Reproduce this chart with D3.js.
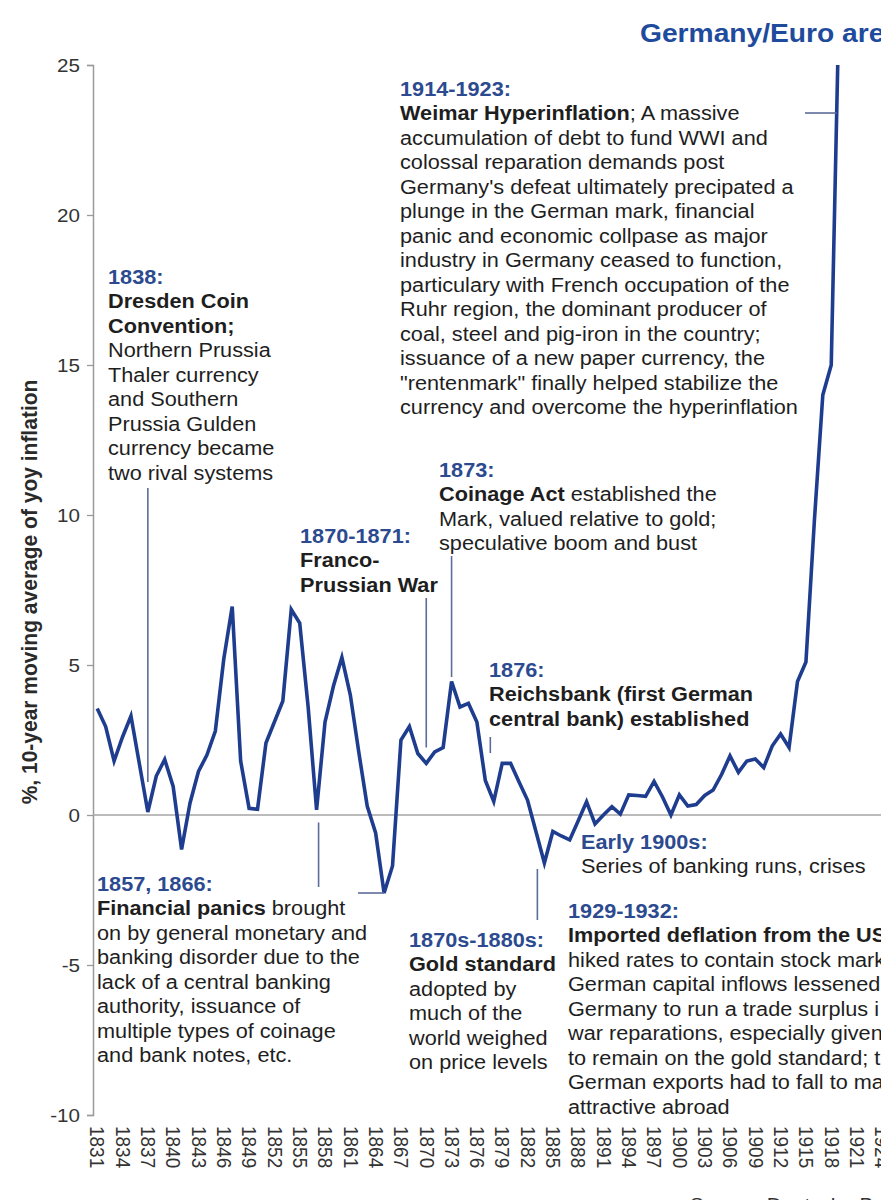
<!DOCTYPE html>
<html>
<head>
<meta charset="utf-8">
<script src="https://cdn.jsdelivr.net/npm/d3@7"></script>
<style>
  html, body { margin: 0; padding: 0; background: #fff; }
  svg { display: block; font-family: "Liberation Sans", Arial, sans-serif; }
</style>
</head>
<body>
<svg id="chart" width="881" height="1200"></svg>
<script>
// ---------- data ----------
const years = [
  1831,1832,1833,1834,1835,1836,1837,1838,1839,1840,
  1841,1842,1843,1844,1845,1846,1847,1848,1849,1850,
  1851,1852,1853,1854,1855,1856,1857,1858,1859,1860,
  1861,1862,1863,1864,1865,1866,1867,1868,1869,1870,
  1871,1872,1873,1874,1875,1876,1877,1878,1879,1880,
  1881,1882,1883,1884,1885,1886,1887,1888,1889,1890,
  1891,1892,1893,1894,1895,1896,1897,1898,1899,1900,
  1901,1902,1903,1904,1905,1906,1907,1908,1909,1910,
  1911,1912,1913,1914,1915,1916,1917,1918,1919
];
const inflation = [
  3.55,2.95,1.8,2.6,3.3,1.7,0.1,1.3,1.85,0.95,
  -1.15,0.4,1.45,2.0,2.8,5.2,6.95,1.8,0.22,0.19,
  2.4,3.1,3.8,6.85,6.4,3.6,0.17,3.1,4.3,5.25,
  4.0,2.1,0.3,-0.6,-2.6,-1.7,2.5,2.95,2.05,1.72,
  2.1,2.25,4.45,3.6,3.72,3.1,1.15,0.45,1.72,1.72,
  1.1,0.5,-0.55,-1.6,-0.55,-0.7,-0.83,-0.2,0.44,-0.3,
  0.0,0.28,0.03,0.67,0.65,0.62,1.12,0.6,0.0,0.67,
  0.3,0.35,0.65,0.83,1.35,1.97,1.42,1.8,1.87,1.58,
  2.3,2.7,2.25,4.45,5.1,9.8,14.0,15.0,28
];
const tickYears = [1831,1834,1837,1840,1843,1846,1849,1852,1855,1858,1861,1864,1867,1870,1873,1876,1879,1882,1885,1888,1891,1894,1897,1900,1903,1906,1909,1912,1915,1918,1921,1924];
const yTicks = [-10,-5,0,5,10,15,20,25];

const titleText = "Germany/Euro area";
const yAxisTitle = "%, 10-year moving average of yoy inflation";
const sourceText = "Source: Deutsche Bank";

// annotation texts: each line is a list of [text, style]
const noteWeimar = [
  [["1914-1923:", "h"]],
  [["Weimar Hyperinflation", "b"], ["; A massive", "n"]],
  [["accumulation of debt to fund WWI and", "n"]],
  [["colossal reparation demands post", "n"]],
  [["Germany's defeat ultimately precipated a", "n"]],
  [["plunge in the German mark, financial", "n"]],
  [["panic and economic collpase as major", "n"]],
  [["industry in Germany ceased to function,", "n"]],
  [["particulary with French occupation of the", "n"]],
  [["Ruhr region, the dominant producer of", "n"]],
  [["coal, steel and pig-iron in the country;", "n"]],
  [["issuance of a new paper currency, the", "n"]],
  [["\"rentenmark\" finally helped stabilize the", "n"]],
  [["currency and overcome the hyperinflation", "n"]]
];
const noteDresden = [
  [["1838:", "h"]],
  [["Dresden Coin", "b"]],
  [["Convention;", "b"]],
  [["Northern Prussia", "n"]],
  [["Thaler currency", "n"]],
  [["and Southern", "n"]],
  [["Prussia Gulden", "n"]],
  [["currency became", "n"]],
  [["two rival systems", "n"]]
];
const noteFranco = [
  [["1870-1871:", "h"]],
  [["Franco-", "b"]],
  [["Prussian War", "b"]]
];
const noteCoinage = [
  [["1873:", "h"]],
  [["Coinage Act", "b"], [" established the", "n"]],
  [["Mark, valued relative to gold;", "n"]],
  [["speculative boom and bust", "n"]]
];
const noteReichsbank = [
  [["1876:", "h"]],
  [["Reichsbank (first German", "b"]],
  [["central bank) established", "b"]]
];
const noteEarly1900 = [
  [["Early 1900s:", "h"]],
  [["Series of banking runs, crises", "n"]]
];
const notePanics = [
  [["1857, 1866:", "h"]],
  [["Financial panics", "b"], [" brought", "n"]],
  [["on by general monetary and", "n"]],
  [["banking disorder due to the", "n"]],
  [["lack of a central banking", "n"]],
  [["authority, issuance of", "n"]],
  [["multiple types of coinage", "n"]],
  [["and bank notes, etc.", "n"]]
];
const noteGold = [
  [["1870s-1880s:", "h"]],
  [["Gold standard", "b"]],
  [["adopted by", "n"]],
  [["much of the", "n"]],
  [["world weighed", "n"]],
  [["on price levels", "n"]]
];
const noteDeflation = [
  [["1929-1932:", "h"]],
  [["Imported deflation from the US", "b"]],
  [["hiked rates to contain stock mark", "n"]],
  [["German capital inflows lessened", "n"]],
  [["Germany to run a trade surplus i", "n"]],
  [["war reparations, especially given", "n"]],
  [["to remain on the gold standard; t", "n"]],
  [["German exports had to fall to ma", "n"]],
  [["attractive abroad", "n"]]
];

// ---------- drawing ----------
const svg = d3.select("#chart");
const W = 881, H = 1200;
const lineColor = "#1f3d8f";
const blue = "#2c4a8f";
const txt = "#1e1e1e";
const leader = "#5d6d99";
const SX = 1.085;      // horizontal stretch of the original picture's type
const FONT = "Liberation Sans, Arial, sans-serif";

const step = 8.437;
const x = d3.scaleLinear().domain([1830.5, 1930.5]).range([93, 93 + 100 * step]);
const y = d3.scaleLinear().domain([-10, 25]).range([1115, 65]);

// title
svg.append("g").attr("transform", `translate(640,42) scale(${SX},1)`)
  .append("text")
  .attr("fill", "#1f4b9c").attr("font-weight", "bold").attr("font-size", 26)
  .text(titleText);

// y axis
const yAxis = d3.axisLeft(y).tickValues(yTicks).tickSize(6).tickPadding(8).tickFormat(d => String(d));
const gy = svg.append("g").attr("transform", "translate(93,0)").call(yAxis);
gy.select(".domain").attr("stroke", "#9a9a9a").attr("stroke-width", 1.5);
gy.selectAll(".tick line").attr("stroke", "#9a9a9a").attr("stroke-width", 1.3);
gy.selectAll(".tick text").attr("fill", "#333").attr("font-size", 19)
  .attr("font-family", FONT)
  .attr("x", 0).attr("text-anchor", "end")
  .attr("transform", `translate(-13,0) scale(${SX},1)`);

// y axis title
svg.append("text")
  .attr("transform", `translate(37,${592}) rotate(-90) scale(1,${SX})`)
  .attr("text-anchor", "middle")
  .attr("font-weight", "bold").attr("font-size", 21).attr("fill", "#2a2a2a")
  .text(yAxisTitle);

// zero line (category axis)
svg.append("line")
  .attr("x1", 93).attr("x2", W).attr("y1", y(0)).attr("y2", y(0))
  .attr("stroke", "#a5a5a5").attr("stroke-width", 1.6);

// x tick labels (rotated)
const gx = svg.append("g").attr("transform", `translate(0,${y(-10)})`)
  .call(d3.axisBottom(x).tickValues(tickYears).tickSize(0).tickFormat(d => String(d)));
gx.select(".domain").remove();
gx.selectAll(".tick text")
  .attr("font-size", 19).attr("fill", "#333")
  .attr("font-family", FONT)
  .attr("text-anchor", "start")
  .attr("transform", `rotate(90) scale(1,${SX})`)
  .attr("x", 11).attr("y", 0).attr("dy", "0.35em");

// clip for line
svg.append("clipPath").attr("id", "plotclip")
  .append("rect").attr("x", 93).attr("y", y(25)).attr("width", W - 93).attr("height", y(-10) - y(25));

const line = d3.line().x((d, i) => x(years[i])).y(d => y(d));
svg.append("path")
  .datum(inflation)
  .attr("clip-path", "url(#plotclip)")
  .attr("d", line)
  .attr("fill", "none")
  .attr("stroke", lineColor)
  .attr("stroke-width", 3.6)
  .attr("stroke-linejoin", "miter")
  .attr("stroke-linecap", "butt");

// leader lines
function leaderLine(x1, y1, x2, y2) {
  svg.append("line").attr("x1", x1).attr("y1", y1).attr("x2", x2).attr("y2", y2)
    .attr("stroke", leader).attr("stroke-width", 1.6);
}
leaderLine(805, y(23.4), x(1919) - 3, y(23.4));     // Weimar
leaderLine(x(1837), 488, x(1837), y(1.1));          // 1838
leaderLine(x(1870), 598, x(1870), y(2.25));         // Franco-Prussian
leaderLine(x(1873), 556, x(1873), y(4.6));          // 1873
leaderLine(x(1877) + 5, 737, x(1877) + 5, 753);    // 1876
leaderLine(x(1857) + 2, y(-0.25), x(1857) + 2, 887); // 1857
leaderLine(358, y(-2.6), x(1865), y(-2.6));        // 1866
leaderLine(x(1884) - 7, y(-1.8), x(1884) - 7, 920); // Gold standard

// annotation blocks
function note(lines, x0, y0, lh, fs) {
  const g = svg.append("g").attr("transform", `translate(${x0},${y0}) scale(${SX},1)`);
  const t = g.append("text").attr("x", 0).attr("y", 0).attr("font-size", fs);
  lines.forEach((segs, i) => {
    segs.forEach((s, j) => {
      const ts = t.append("tspan").text(s[0]);
      if (j === 0) ts.attr("x", 0).attr("y", i * lh);
      if (s[1] === "h") ts.attr("fill", blue).attr("font-weight", "bold");
      else if (s[1] === "b") ts.attr("fill", txt).attr("font-weight", "bold");
      else ts.attr("fill", txt);
    });
  });
}
const FS = 20, LH = 24.5;
note(noteWeimar, 400, 96, LH, FS);
note(noteDresden, 108, 284, LH, FS);
note(noteFranco, 300, 543, LH, FS);
note(noteCoinage, 439, 477, LH, FS);
note(noteReichsbank, 489, 677, LH, FS);
note(noteEarly1900, 581, 849, LH, FS);
note(notePanics, 97, 891, LH, FS);
note(noteGold, 409, 947, LH, FS);
note(noteDeflation, 568, 918, LH, FS);

// source (mostly cropped at bottom)
svg.append("g").attr("transform", `translate(690,1211) scale(${SX},1)`)
  .append("text").attr("font-size", 19).attr("fill", "#333")
  .text(sourceText);
</script>
</body>
</html>
